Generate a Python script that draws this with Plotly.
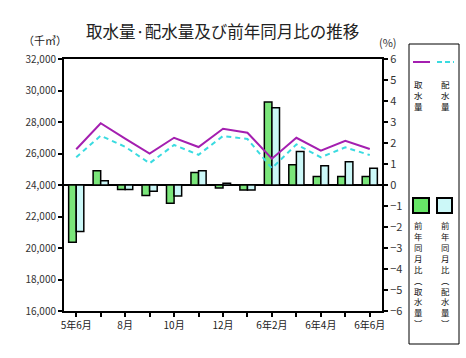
import plotly.graph_objects as go

months = ["5年6月", "5年7月", "5年8月", "5年9月", "5年10月", "5年11月", "5年12月",
          "6年1月", "6年2月", "6年3月", "6年4月", "6年5月", "6年6月"]
tick_text = ["5年6月", "", "8月", "", "10月", "", "12月", "", "6年2月", "", "6年4月", "", "6年6月"]

intake = [26270, 27920, 26950, 25990, 27000, 26410, 27570, 27320, 25670, 27000, 26180, 26810, 26290]
distrib = [25760, 27130, 26430, 25380, 26540, 25920, 27110, 26920, 25060, 26580, 25760, 26390, 25900]
intake_yoy = [-2.73, 0.68, -0.22, -0.50, -0.87, 0.59, -0.14, -0.24, 3.95, 0.97, 0.40, 0.40, 0.40]
distrib_yoy = [-2.22, 0.20, -0.22, -0.30, -0.52, 0.68, 0.08, -0.24, 3.68, 1.60, 0.92, 1.11, 0.80]

left_ticks = list(range(16000, 32001, 2000))
right_ticks = list(range(-6, 7))

W, H = 466, 358
L, R, T, B = 64, 382, 59, 311
FONT = "Noto Sans CJK JP"

def px(x):
    return (x - L) / (R - L)

def py(y):
    return (B - y) / (B - T)

fig = go.Figure()
fig.add_trace(go.Bar(x=months, y=intake_yoy, yaxis="y", name="前年同月比（取水量）",
                     marker=dict(color="#7ae67a", line=dict(color="black", width=1.5))))
fig.add_trace(go.Bar(x=months, y=distrib_yoy, yaxis="y", name="前年同月比（配水量）",
                     marker=dict(color="#ccf8f8", line=dict(color="black", width=1.5))))
fig.add_trace(go.Scatter(x=months, y=intake, yaxis="y2", mode="lines", name="取水量",
                         line=dict(color="#a41fb0", width=2)))
fig.add_trace(go.Scatter(x=months, y=distrib, yaxis="y2", mode="lines", name="配水量",
                         line=dict(color="#3adbe0", width=2, dash="5px,4px")))

shapes = []
annotations = []

# legend box
shapes.append(dict(type="rect", xref="paper", yref="paper", x0=px(409), x1=px(459),
                   y0=py(344), y1=py(44), line=dict(color="black", width=1)))
shapes.append(dict(type="line", xref="paper", yref="paper", x0=px(413), x1=px(430),
                   y0=py(62), y1=py(62), line=dict(color="#a41fb0", width=2)))
shapes.append(dict(type="line", xref="paper", yref="paper", x0=px(437), x1=px(454),
                   y0=py(62), y1=py(62), line=dict(color="#3adbe0", width=2, dash="5px,3px")))
shapes.append(dict(type="rect", xref="paper", yref="paper", x0=px(413), x1=px(429),
                   y0=py(213), y1=py(198), fillcolor="#66e666", line=dict(color="black", width=2)))
shapes.append(dict(type="rect", xref="paper", yref="paper", x0=px(437), x1=px(452),
                   y0=py(213), y1=py(198), fillcolor="#ccf8f8", line=dict(color="black", width=2)))

def vtext(chars, xc, ytop, size):
    annotations.append(dict(text="<br>".join(chars), xref="paper", yref="paper",
                            x=px(xc), y=py(ytop), xanchor="center", yanchor="top",
                            showarrow=False, align="center",
                            font=dict(family=FONT, size=size, color="#111")))

vtext("取水量", 418, 76, 8.5)
vtext("配水量", 445, 76, 8.5)
vtext("前年同月比︵取水量︶", 418, 217, 8.4)
vtext("前年同月比︵配水量︶", 445, 217, 8.4)

annotations.append(dict(text="取水量·配水量及び前年同月比の推移", xref="paper", yref="paper",
                        x=px(222), y=py(31), xanchor="center", yanchor="middle", showarrow=False,
                        font=dict(family=FONT, size=16.5, color="#222")))
annotations.append(dict(text="（千㎥）", xref="paper", yref="paper",
                        x=px(45), y=py(40), xanchor="center", yanchor="middle", showarrow=False,
                        font=dict(family=FONT, size=11, color="#222")))
annotations.append(dict(text="(%)", xref="paper", yref="paper",
                        x=px(388), y=py(42), xanchor="center", yanchor="middle", showarrow=False,
                        font=dict(family=FONT, size=11, color="#333")))

fig.update_layout(
    width=W, height=H,
    margin=dict(l=L, r=W - R, t=T, b=H - B, pad=0),
    paper_bgcolor="white", plot_bgcolor="white",
    showlegend=False,
    barmode="group", bargap=0.38, bargroupgap=0,
    font=dict(family=FONT, size=10, color="#333"),
    xaxis=dict(type="category", tickvals=months, ticktext=tick_text, showline=True, mirror=True,
               linecolor="black", linewidth=2, ticks="outside", ticklen=4, tickwidth=2,
               tickcolor="black", showgrid=False, tickfont=dict(size=10, color="#222")),
    yaxis=dict(side="right", range=[-6, 6], tickvals=right_ticks, showline=True, linecolor="black",
               linewidth=2, ticks="outside", ticklen=4, tickwidth=2, tickcolor="black",
               showgrid=False, zeroline=True, zerolinecolor="black", zerolinewidth=2,
               tickfont=dict(size=11, color="#333")),
    yaxis2=dict(side="left", overlaying="y", range=[16000, 32000], tickvals=left_ticks,
                tickformat=",", showline=True, linecolor="black", linewidth=2, ticks="outside",
                ticklen=4, tickwidth=2, tickcolor="black", showgrid=False, zeroline=False,
                tickfont=dict(size=10, color="#333")),
    shapes=shapes, annotations=annotations,
)

fig.write_html("out.html", config={"displayModeBar": False},
               post_script="document.body.style.margin='0';")
